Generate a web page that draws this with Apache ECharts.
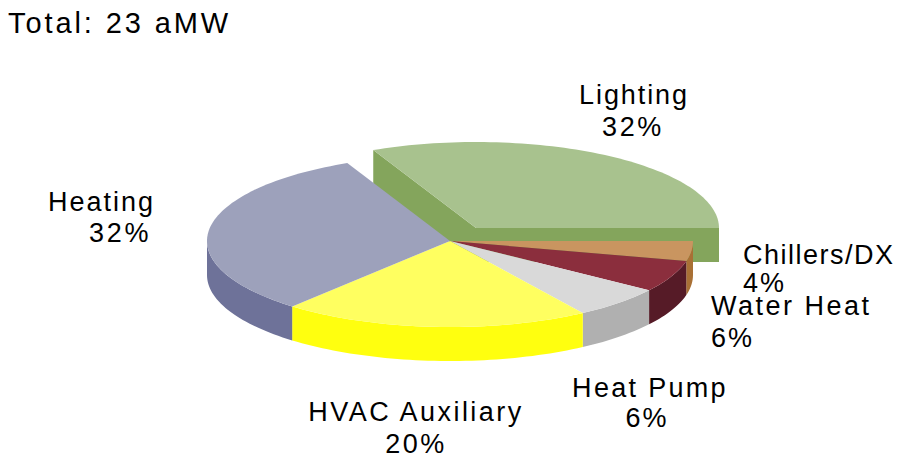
<!DOCTYPE html>
<html>
<head>
<meta charset="utf-8">
<script src="https://cdn.jsdelivr.net/npm/echarts@6/dist/echarts.min.js"></script>
<style>
  html, body { margin: 0; background: #fff; }
  #main { width: 900px; height: 459px; }
</style>
</head>
<body>
<div id="main"></div>
<script>
const totalText = 'Total: 23 aMW';
const categories = ['Lighting', 'Chillers/DX', 'Water Heat', 'Heat Pump', 'HVAC Auxiliary', 'Heating'];
// estimated from the slice edges, the labels show them rounded
const shares = [31.95, 3.75, 5.97, 6.08, 20.45, 31.8];

const topColors = ['#a8c28e', '#c99560', '#8b2e3d', '#d9d9d9', '#ffff60', '#9da1bb'];
const sideColors = ['#84a55c', '#a97035', '#561b27', '#b0b0b0', '#ffff0f', '#6e7299'];

// pie geometry, the tilt is just a squashed ellipse
const pie = { cx: 450, cy: 241, rx: 243, ry: 86, depth: 34 };
const explodeX = 26, explodeY = -13;

// x, y, align for the name line and for the percent line
const labelPos = {
  'Lighting': [[634, 108, 'center'], [633, 140, 'center']],
  'Chillers/DX': [[743, 268, 'left'], [743, 296, 'left']],
  'Water Heat': [[711, 319, 'left'], [711, 351, 'left']],
  'Heat Pump': [[650, 401, 'center'], [647, 431, 'center']],
  'HVAC Auxiliary': [[416, 425, 'center'], [416, 457, 'center']],
  'Heating': [[48, 215, 'left'], [89, 246, 'left']]
};

// the original text has uneven tracking, px per text
const tracking = {
  'Total: 23 aMW': 2.9, 'Lighting': 1.9, 'Chillers/DX': 1.5, 'Water Heat': 2.5,
  'Heat Pump': 2.3, 'HVAC Auxiliary': 2.45, 'Heating': 2, '32%': 2.7, '20%': 2.5
};

// lighting ends at the 3 o'clock position, the others follow clockwise
const startAngle = -shares[0] * 3.6;

function arcPoints(cx, cy, from, to) {
  let pts = [];
  let steps = Math.max(2, Math.ceil((to - from) / 1.5));
  for (let i = 0; i <= steps; i++) {
    let t = (from + (to - from) * i / steps) * Math.PI / 180;
    pts.push([cx + pie.rx * Math.cos(t), cy + pie.ry * Math.sin(t)]);
  }
  return pts;
}

function down(pts) {
  return pts.map(p => [p[0], p[1] + pie.depth]).reverse();
}

function poly(points, color) {
  return { type: 'polygon', shape: { points: points }, style: { fill: color } };
}

function textLine(text, pos) {
  return {
    type: 'text',
    style: {
      text: text, x: pos[0], y: pos[1], align: pos[2], verticalAlign: 'bottom',
      font: '27px "Liberation Sans", Arial, sans-serif', fill: '#000'
    }
  };
}

function renderItem(params, api) {
  let i = params.dataIndex;
  let share = api.value(0);
  let before = 0;
  for (let k = 0; k < i; k++) before += shares[k];
  let from = startAngle + before * 3.6;
  let to = from + share * 3.6;

  let exploded = categories[i] === 'Lighting';
  let cx = pie.cx + (exploded ? explodeX : 0);
  let cy = pie.cy + (exploded ? explodeY : 0);
  let children = [];

  // cut faces are only visible on the pulled out slice
  if (exploded) {
    let apex = [cx, cy];
    let first = arcPoints(cx, cy, from, from)[0];
    let last = arcPoints(cx, cy, to, to)[0];
    children.push(poly([first, apex].concat(down([first, apex])), sideColors[i]));
    children.push(poly([apex, last].concat(down([apex, last])), sideColors[i]));
  }

  // outer wall, front half of the rim only
  let wallFrom = Math.max(from, 0), wallTo = Math.min(to, 180);
  if (wallTo > wallFrom) {
    let rim = arcPoints(cx, cy, wallFrom, wallTo);
    children.push(poly(rim.concat(down(rim)), sideColors[i]));
  }

  children.push(poly([[cx, cy]].concat(arcPoints(cx, cy, from, to)), topColors[i]));

  let pos = labelPos[categories[i]];
  children.push(textLine(categories[i], pos[0]));
  children.push(textLine(Math.round(share) + '%', pos[1]));

  return { type: 'group', children: children };
}

let container = document.getElementById('main');
let chart = echarts.init(container, null, { renderer: 'svg' });

chart.setOption({
  animation: false,
  backgroundColor: '#fff',
  title: {
    text: totalText,
    left: 8,
    top: 8,
    padding: 0,
    textStyle: { fontFamily: '"Liberation Sans", Arial, sans-serif', fontSize: 29, fontWeight: 'normal', color: '#000' }
  },
  series: [{
    type: 'custom',
    coordinateSystem: 'none',
    renderItem: renderItem,
    data: shares.map(v => [v])
  }]
});

container.querySelectorAll('text').forEach(el => {
  el.style.letterSpacing = (tracking[el.textContent] || 2) + 'px';
});
</script>
</body>
</html>
